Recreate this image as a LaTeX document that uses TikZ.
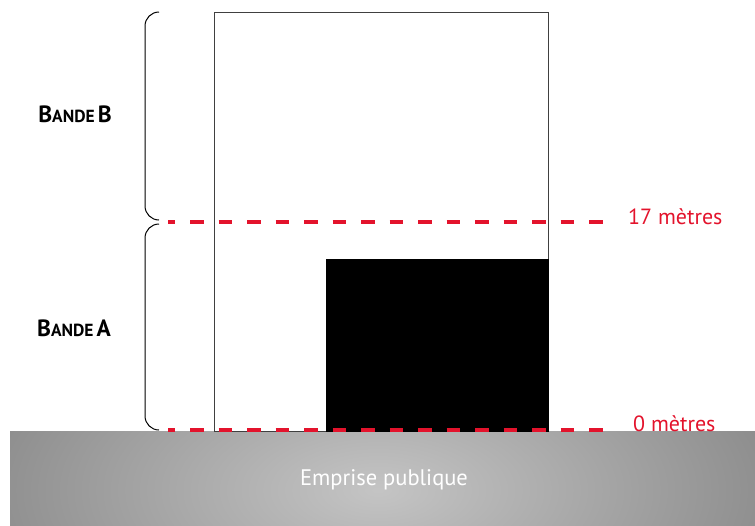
\documentclass[tikz,border=0pt]{standalone}
\usepackage{fontspec}
\setmainfont{PT Sans}
\usepackage{tikz}
\usetikzlibrary{positioning}
\definecolor{rougelim}{HTML}{E3132C}
\newcommand{\bandesc}[1]{{\fontsize{23.5}{24}\selectfont B}{\fontsize{17.5}{18}\selectfont ANDE}\hspace{3pt}{\fontsize{23.5}{24}\selectfont #1}}

\begin{document}
\begin{tikzpicture}[
  x=1pt, y=-1pt,
  limite/.style={draw=rougelim, line width=4pt, dash pattern=on 13.5pt off 15pt, dash phase=6.5pt},
  cote/.style={text=rougelim, font=\fontsize{22}{22}\selectfont, anchor=base west, inner sep=0pt},
  bande/.style={font=\bfseries, inner sep=0pt},
  accolade/.style={draw, line width=1pt, rounded corners=14pt}
]
\useasboundingbox (0,0) rectangle (755,525);
% emprise publique
\begin{scope}
  \clip (10,431) rectangle (755,525);
  \shade[inner color=black!23, outer color=black!50] (378,490) ellipse (500 and 240);
\end{scope}
\node[text=white, font=\fontsize{22.5}{23}\selectfont] (emprise) at (384,480) {Emprise publique};
% parcelle et batiment
\node[draw=black!75, line width=0.8pt, minimum width=334pt, minimum height=419pt,
  inner sep=0pt, anchor=north west] (parcelle) at (214,12) {};
\node[fill=black, minimum width=223pt, minimum height=173pt, inner sep=0pt,
  anchor=south east] (bati) at (parcelle.south east) {};
% limites
\coordinate (l17g) at (168,222);
\coordinate (l17d) at (612,222);
\coordinate (l0g) at (168,430);
\coordinate (l0d) at (612,430);
\draw[limite] (l17g) -- (l17d);
\draw[limite] (l0g) -- (l0d);
\node[cote] (c17) at (628,224) {17 mètres};
\node[cote] (c0) at (633,431) {0 mètres};
% bandes
\draw[accolade] (159,12) -- (145,12) -- (145,220) -- (159,220);
\draw[accolade] (159,224) -- (145,224) -- (145,430) -- (159,430);
\node[bande] (bandeB) at (75,114) {\bandesc{B}};
\node[bande] (bandeA) at (74,328) {\bandesc{A}};
\end{tikzpicture}
\end{document}
